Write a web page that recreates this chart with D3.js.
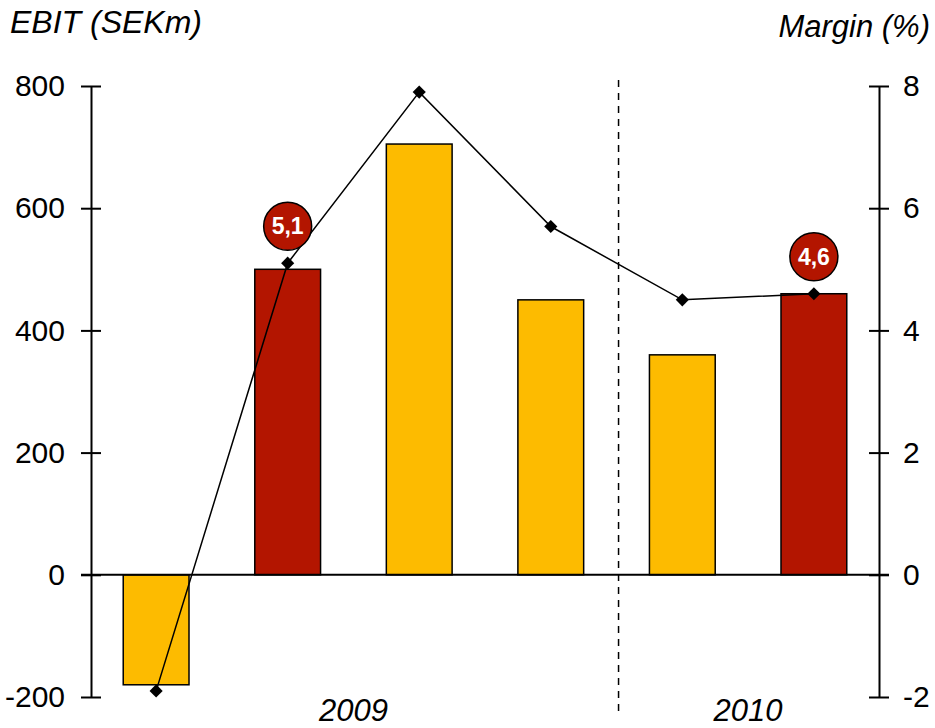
<!DOCTYPE html>
<html>
<head>
<meta charset="utf-8">
<script src="https://cdn.jsdelivr.net/npm/d3@7"></script>
<style>
  body { margin: 0; background: #fff; }
  svg text { font-family: "Liberation Sans", Arial, sans-serif; fill: #000; }
</style>
</head>
<body>
<div id="chart"></div>
<script>
const quarters = ["Q4 08", "Q1 09", "Q2 09", "Q3 09", "Q4 09", "Q1 10"];
const ebit = [-180, 500, 705, 450, 360, 460];
const margin = [-1.9, 5.1, 7.9, 5.7, 4.5, 4.6];
const barColors = ["#FDBB00", "#B31500", "#FDBB00", "#FDBB00", "#FDBB00", "#B31500"];
const leftTicks = [-200, 0, 200, 400, 600, 800];
const rightTicks = [-2, 0, 2, 4, 6, 8];
const callouts = [{ i: 1, label: "5,1" }, { i: 5, label: "4,6" }];
const years = [{ label: "2009", from: 0, to: 3 }, { label: "2010", from: 4, to: 5 }];

const W = 935, H = 728;
const plot = { left: 91, right: 879, top: 86, bottom: 697 };

const svg = d3.select("#chart").append("svg")
    .attr("width", W).attr("height", H);

const x = d3.scaleBand()
    .domain(quarters)
    .range([plot.left, plot.right])
    .paddingInner(0.5)
    .paddingOuter(0.245);

const yL = d3.scaleLinear().domain([-200, 800]).range([plot.bottom, plot.top]);
const yR = d3.scaleLinear().domain([-2, 8]).range([plot.bottom, plot.top]);

// bars
svg.selectAll(".bar")
    .data(ebit)
    .enter().append("rect")
    .attr("x", (d, i) => x(quarters[i]))
    .attr("y", d => yL(Math.max(0, d)))
    .attr("width", x.bandwidth())
    .attr("height", d => Math.abs(yL(d) - yL(0)))
    .attr("fill", (d, i) => barColors[i])
    .attr("stroke", "#000")
    .attr("stroke-width", 1.5);

// zero line
svg.append("line")
    .attr("x1", plot.left - 10).attr("x2", plot.right + 10)
    .attr("y1", yL(0)).attr("y2", yL(0))
    .attr("stroke", "#000").attr("stroke-width", 2);

// dashed year divider
const step = x.step();
const divX = x(quarters[4]) - step * x.paddingInner() / 2 + 2;
svg.append("line")
    .attr("x1", divX).attr("x2", divX)
    .attr("y1", 80).attr("y2", 717)
    .attr("stroke", "#000").attr("stroke-width", 1.5)
    .attr("stroke-dasharray", "7,6");

// axes (hyphen minus like the original)
const fmt = d => String(d);
const leftAxis = svg.append("g")
    .attr("transform", `translate(${plot.left},0)`)
    .call(d3.axisLeft(yL).tickValues(leftTicks).tickFormat(fmt).tickSize(0).tickPadding(26));
const rightAxis = svg.append("g")
    .attr("transform", `translate(${plot.right},0)`)
    .call(d3.axisRight(yR).tickValues(rightTicks).tickFormat(fmt).tickSize(0).tickPadding(24));

[leftAxis, rightAxis].forEach(g => {
    g.select(".domain").attr("stroke", "#000").attr("stroke-width", 2);
    g.selectAll(".tick text").style("font-size", "30px").attr("fill", "#000");
    g.selectAll(".tick").append("line")
        .attr("x1", -10).attr("x2", 10)
        .attr("stroke", "#000").attr("stroke-width", 2);
});

// margin line
const cx = i => x(quarters[i]) + x.bandwidth() / 2;
svg.append("path")
    .datum(margin)
    .attr("fill", "none")
    .attr("stroke", "#000")
    .attr("stroke-width", 1.5)
    .attr("d", d3.line().x((d, i) => cx(i)).y(d => yR(d)));

svg.selectAll(".marker")
    .data(margin)
    .enter().append("path")
    .attr("d", d3.symbol(d3.symbolDiamond2, 110))
    .attr("transform", (d, i) => `translate(${cx(i)},${yR(d)})`)
    .attr("fill", "#000");

// callouts
const co = svg.selectAll(".callout")
    .data(callouts)
    .enter().append("g")
    .attr("transform", d => `translate(${cx(d.i)},${yR(margin[d.i]) - 37})`);
co.append("circle")
    .attr("r", 24)
    .attr("fill", "#B31500")
    .attr("stroke", "#000")
    .attr("stroke-width", 1.5);
co.append("text")
    .attr("text-anchor", "middle")
    .attr("dy", "0.36em")
    .style("font-size", "23px")
    .style("font-weight", "bold")
    .style("fill", "#fff")
    .text(d => d.label);

// year labels
svg.selectAll(".year")
    .data(years)
    .enter().append("text")
    .attr("x", d => (x(quarters[d.from]) + x(quarters[d.to]) + x.bandwidth()) / 2)
    .attr("y", 721)
    .attr("text-anchor", "middle")
    .style("font-size", "31px")
    .style("font-style", "italic")
    .text(d => d.label);

// axis titles
svg.append("text")
    .attr("x", 10).attr("y", 33)
    .style("font-size", "32px").style("font-style", "italic")
    .text("EBIT (SEKm)");
svg.append("text")
    .attr("x", 930).attr("y", 37)
    .attr("text-anchor", "end")
    .style("font-size", "31px").style("font-style", "italic")
    .text("Margin (%)");
</script>
</body>
</html>
